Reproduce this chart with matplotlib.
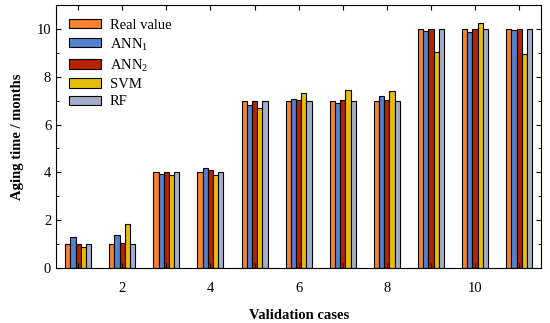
import numpy as np
import matplotlib.pyplot as plt

plt.rcParams['font.family'] = ['Liberation Serif', 'DejaVu Serif']
plt.rcParams['mathtext.fontset'] = 'custom'
plt.rcParams['mathtext.rm'] = 'Liberation Serif'

# validation cases and predictions
cases = np.arange(1, 12)
real_value = [1.0, 1.0, 4.0, 4.0, 7.0, 7.0, 7.0, 7.0, 10.0, 10.0, 10.0]
ann1 = [1.3, 1.4, 3.95, 4.17, 6.8, 7.08, 6.9, 7.2, 9.9, 9.85, 9.95]
ann2 = [1.0, 1.05, 4.02, 4.1, 7.0, 7.04, 7.02, 7.02, 9.98, 10.0, 10.0]
svm = [0.9, 1.85, 3.9, 3.88, 6.68, 7.3, 7.45, 7.38, 9.05, 10.25, 8.95]
rf = [1.0, 1.0, 4.0, 4.0, 7.0, 7.0, 7.0, 7.0, 10.0, 10.0, 10.0]

series = [real_value, ann1, ann2, svm, rf]
labels = ['Real value', 'ANN$_1$', 'ANN$_2$', 'SVM', 'RF']
colors = ['#F5822F', '#5282CF', '#B52300', '#E6BE0A', '#A3AECB']

fig = plt.figure(figsize=(5.5, 3.23), dpi=100)
ax = fig.add_axes([0.102, 0.170, 0.882, 0.815])

w = 0.118
for i, (vals, lab, col) in enumerate(zip(series, labels, colors)):
    offs = (i - 2) * w
    ax.bar(cases + offs, vals, width=w, color=col, edgecolor='black',
           linewidth=0.8, label=lab)

ax.set_xlim(0.5, 11.5)
ax.set_ylim(0, 11)
ax.set_xticks(cases)
ax.set_xticklabels([str(c) if c % 2 == 0 else '' for c in cases])
ax.set_yticks([0, 2, 4, 6, 8, 10])
ax.set_yticks(np.arange(1, 11, 2), minor=True)
ax.tick_params(direction='in', top=True, right=True, which='both', labelsize=10.5)
ax.tick_params(axis='x', pad=10)
ax.set_xlabel('Validation cases', fontsize=10.5, fontweight='bold', labelpad=10)
ax.set_ylabel('Aging time / months', fontsize=10.5, fontweight='bold', labelpad=9)

ax.legend(loc='upper left', frameon=False, fontsize=10.5, handlelength=2.2,
          handleheight=0.6, labelspacing=0.3, handletextpad=0.6,
          borderaxespad=0.0, bbox_to_anchor=(0.015, 0.97))

fig.savefig('out.png', dpi=100)
